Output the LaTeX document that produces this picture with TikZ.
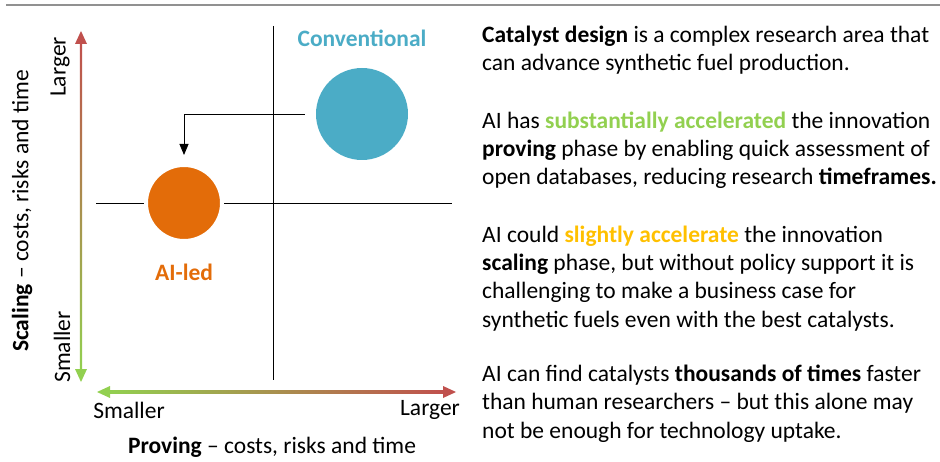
\documentclass[tikz,border=0pt]{standalone}
\usepackage{fontspec}
\setmainfont{Carlito}
\usepackage{xcolor}
\usetikzlibrary{arrows.meta}

\definecolor{convblue}{HTML}{4BACC6}
\definecolor{aiorange}{HTML}{E36C09}
\definecolor{axred}{RGB}{192,80,77}
\definecolor{axgreen}{RGB}{146,208,80}
\definecolor{hlgreen}{HTML}{92D050}
\definecolor{hlyellow}{HTML}{FFC000}
\definecolor{rulegray}{RGB}{145,145,145}

\begin{document}
\begin{tikzpicture}[x=1pt, y=-1pt,
        axislabel/.style={font=\fontsize{23.5}{27}\selectfont, inner sep=0pt},
        quadlabel/.style={font=\fontsize{23.5}{27}\selectfont\bfseries, inner sep=0pt},
        bodytext/.style={font=\fontsize{23.5}{28.3}\selectfont, align=left, inner sep=0pt, anchor=base west}]
        \useasboundingbox (0,0) rectangle (940,462);

        % Define end points of the rule and the axes
        \coordinate (R1) at (6, 5);      % Rule left
        \coordinate (R2) at (940, 5);    % Rule right
        \coordinate (Y1) at (81, 31);    % Scaling axis top
        \coordinate (Y2) at (81, 382);   % Scaling axis bottom
        \coordinate (X1) at (97, 392);   % Proving axis left
        \coordinate (X2) at (456, 392);  % Proving axis right

        % Define quadrant lines
        \coordinate (V1) at (273, 26);
        \coordinate (V2) at (273, 380);
        \coordinate (H1) at (96, 203);
        \coordinate (H2) at (452, 203);

        % Draw top rule
        \draw[rulegray, line width=2pt] (R1) -- (R2);

        % Draw gradient axes with their heads
        \shade[top color=axred, bottom color=axgreen] (79.9, 42) rectangle (82.1, 371);
        \fill[axred] (Y1) -- ++(-6, 13) -- ++(12, 0) -- cycle;
        \fill[axgreen] (Y2) -- ++(-6, -13) -- ++(12, 0) -- cycle;
        \shade[left color=axgreen, right color=axred] (108, 390.9) rectangle (445, 393.1);
        \fill[axgreen] (X1) -- ++(13, -6) -- ++(0, 12) -- cycle;
        \fill[axred] (X2) -- ++(-13, -6) -- ++(0, 12) -- cycle;

        % Draw quadrant lines
        \draw[black, line width=0.9pt] (V1) -- (V2);
        \draw[black, line width=0.9pt] (H1) -- (H2);

        % Draw circles
        \node[circle, fill=convblue, minimum size=92pt, inner sep=0pt] (conv) at (362, 114) {};
        \node[circle, fill=aiorange, draw=white, line width=4pt, minimum size=76pt, inner sep=0pt] (ailed) at (184, 203) {};

        % Draw arrow from conventional to AI-led
        \draw[black, line width=0.9pt, -{Triangle[length=11pt, width=9pt]}, shorten <=11pt, shorten >=8pt] (conv.west) -| (ailed.north);

        % Label circles
        \node[quadlabel, text=convblue] (convlabel) at (362, 38) {Conventional};
        \node[quadlabel, text=aiorange] (ailabel) at (184, 272) {AI-led};

        % Label axes
        \node[axislabel, rotate=90] (ylarger) at (60, 67) {Larger};
        \node[axislabel, rotate=90] (ysmaller) at (62, 347) {Smaller};
        \node[axislabel, rotate=90] (ytitle) at (22, 211) {\textbf{Scaling} -- costs, risks and time};
        \node[axislabel] (xsmaller) at (129, 410) {Smaller};
        \node[axislabel] (xlarger) at (430, 410) {Larger};
        \node[axislabel] (xtitle) at (272, 447) {\textbf{Proving} -- costs, risks and time};

        % Text on the right (base is the last line)
        \node[bodytext] (para1) at (482, 71) {\textbf{Catalyst design} is a complex research area that\\
            can advance synthetic fuel production.};
        \node[bodytext] (para2) at (482, 185) {AI has \textcolor{hlgreen}{\textbf{substantially accelerated}} the innovation\\
            \textbf{proving} phase by enabling quick assessment of\\
            open databases, reducing research \textbf{timeframes.}};
        \node[bodytext] (para3) at (482, 327) {AI could \textcolor{hlyellow}{\textbf{slightly accelerate}} the innovation\\
            \textbf{scaling} phase, but without policy support it is\\
            challenging to make a business case for\\
            synthetic fuels even with the best catalysts.};
        \node[bodytext] (para4) at (482, 438) {AI can find catalysts \textbf{thousands of times} faster\\
            than human researchers -- but this alone may\\
            not be enough for technology uptake.};
    \end{tikzpicture}
\end{document}
